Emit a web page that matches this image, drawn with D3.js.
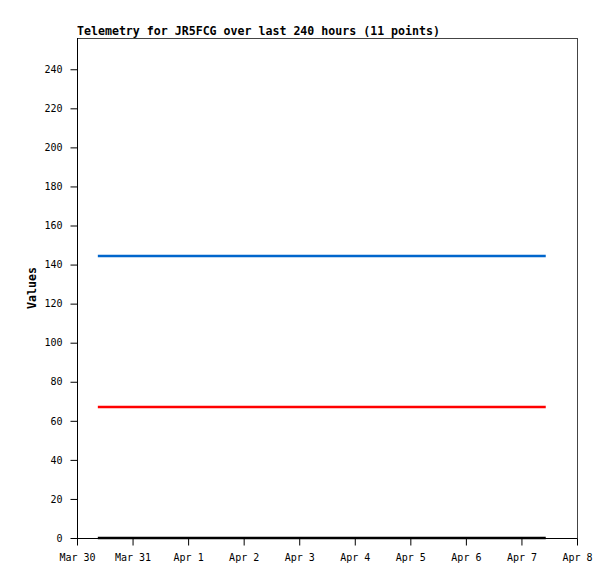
<!DOCTYPE html>
<html>
<head>
<meta charset="utf-8">
<script src="https://cdn.jsdelivr.net/npm/d3@7"></script>
<style>
  body { margin: 0; background: #fff; }
  svg text { font-family: "DejaVu Sans Mono", "Liberation Mono", monospace; }
</style>
</head>
<body>
<svg id="chart" width="615" height="579"></svg>
<script>
const title = "Telemetry for JR5FCG over last 240 hours (11 points)";
const yLabel = "Values";

// sample times (UTC)
const times = [
  "2024-03-30T09:00Z", "2024-03-31T05:00Z", "2024-04-01T02:00Z", "2024-04-01T22:00Z",
  "2024-04-02T19:00Z", "2024-04-03T15:00Z", "2024-04-04T12:00Z", "2024-04-05T08:00Z",
  "2024-04-06T05:00Z", "2024-04-07T01:00Z", "2024-04-07T10:30Z"
];
const blueValues = [144.4, 144.4, 144.4, 144.4, 144.4, 144.4, 144.4, 144.4, 144.4, 144.4, 144.4];
const redValues = [67.1, 67.1, 67.1, 67.1, 67.1, 67.1, 67.1, 67.1, 67.1, 67.1, 67.1];
const blackValues = [0, 0, 0, 0, 0, 0, 0, 0, 0, 0, 0];
const yTicks = [0, 20, 40, 60, 80, 100, 120, 140, 160, 180, 200, 220, 240];
const xStart = "2024-03-30T00:00Z";
const xEnd = "2024-04-08T00:00Z";

const margin = { top: 38, right: 38, bottom: 41, left: 77 };
const width = 615, height = 579;
const w = width - margin.left - margin.right;
const h = height - margin.top - margin.bottom;

const svg = d3.select("#chart");
const g = svg.append("g").attr("transform", "translate(" + margin.left + "," + margin.top + ")");

const x = d3.scaleUtc().domain([new Date(xStart), new Date(xEnd)]).range([0, w]);
const y = d3.scaleLinear().domain([0, 256]).range([h, 0]);

const series = [
  { values: blackValues, color: "#000000", width: 2.5 },
  { values: redValues, color: "#ff0000", width: 2.5 },
  { values: blueValues, color: "#0066cc", width: 2.5 }
];

const line = d3.line()
  .x((d) => x(d[0]))
  .y((d) => y(d[1]));

// frame
g.append("rect")
  .attr("x", 0.5).attr("y", 0.5)
  .attr("width", w).attr("height", h)
  .attr("fill", "none")
  .attr("stroke", "#444")
  .attr("stroke-width", 1);

series.forEach((s) => {
  const pts = times.map((t, i) => [new Date(t), s.values[i]]);
  g.append("path")
    .attr("d", line(pts))
    .attr("fill", "none")
    .attr("stroke", s.color)
    .attr("stroke-width", s.width);
});

const yAxis = g.append("g")
  .attr("transform", "translate(0.5,0)")
  .call(d3.axisLeft(y).tickValues(yTicks).tickSize(7).tickPadding(8).tickFormat(d3.format("d")));
const xAxis = g.append("g")
  .attr("transform", "translate(0," + (h + 0.5) + ")")
  .call(d3.axisBottom(x).ticks(d3.utcDay.every(1)).tickSize(7).tickPadding(8)
    .tickFormat(d3.utcFormat("%b %-d")));

[yAxis, xAxis].forEach((a) => {
  a.select(".domain").remove();
  a.selectAll("line").attr("stroke", "#000");
  a.selectAll("text").attr("fill", "#000").style("font-size", "10px");
});

g.append("line")
  .attr("x1", 0.5).attr("x2", 0.5).attr("y1", 0).attr("y2", h)
  .attr("stroke", "#000");
g.append("line")
  .attr("x1", 0).attr("x2", w).attr("y1", h + 0.5).attr("y2", h + 0.5)
  .attr("stroke", "#000");

svg.append("text")
  .attr("x", margin.left)
  .attr("y", 35)
  .style("font-size", "11.6px")
  .style("font-weight", "bold")
  .text(title);

svg.append("text")
  .attr("transform", "translate(36," + (margin.top + h / 2) + ") rotate(-90)")
  .attr("text-anchor", "middle")
  .style("font-size", "11.6px")
  .style("font-weight", "bold")
  .text(yLabel);
</script>
</body>
</html>
